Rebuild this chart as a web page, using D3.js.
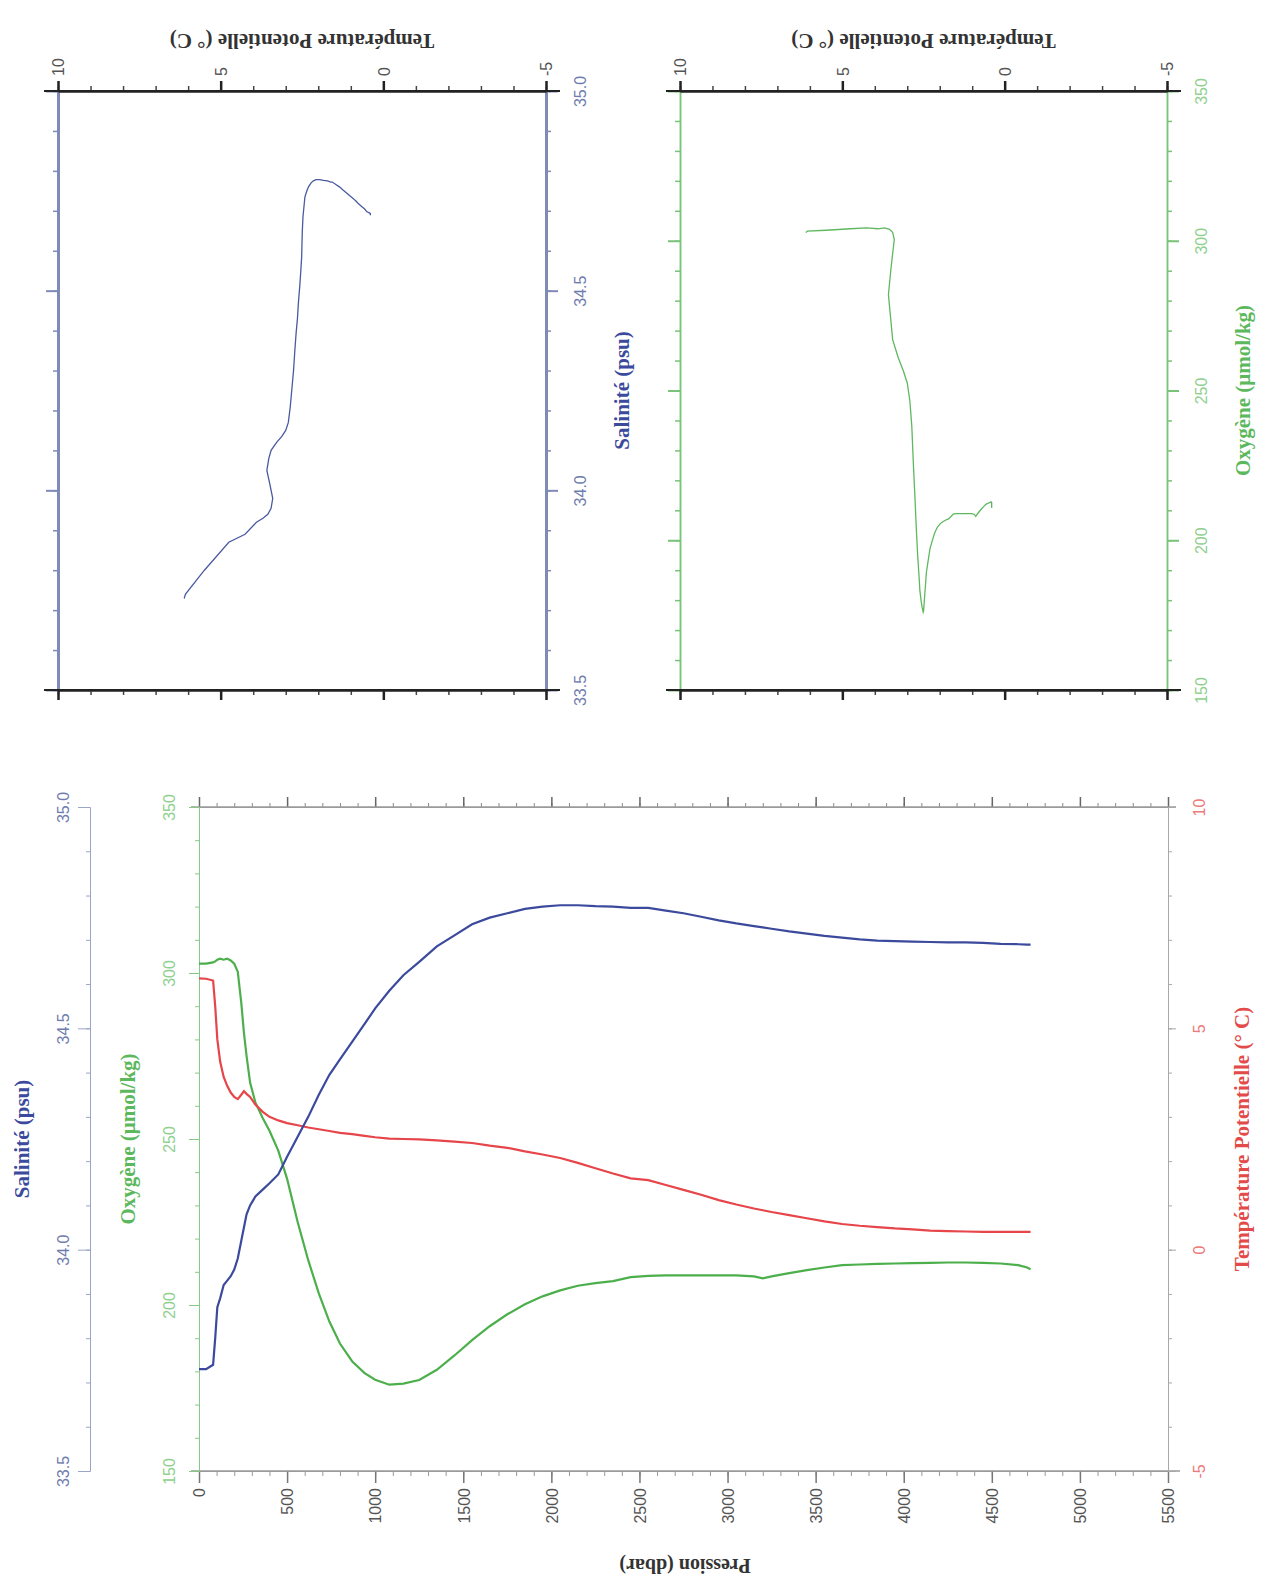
<!DOCTYPE html>
<html><head><meta charset="utf-8">
<script src="https://cdn.jsdelivr.net/npm/d3@7"></script>
<style>body{margin:0;background:#fff} svg{display:block}</style>
</head><body><svg id="c" width="1271" height="1584"></svg>
<script>
// ---------- DATA ----------
const pressure = [0,40,80,92,104,120,140,160,180,200,220,240,255,270,290,320,360,400,450,500,560,620,680,740,800,870,940,1000,1080,1160,1250,1350,1450,1550,1650,1750,1850,1950,2050,2150,2250,2350,2450,2550,2650,2750,2850,2950,3050,3150,3200,3250,3350,3450,3550,3650,3750,3850,3950,4050,4150,4250,4350,4450,4550,4650,4700,4720];
const temperature = [6.13,6.12,6.08,5.5,4.75,4.25,3.9,3.7,3.55,3.45,3.40,3.50,3.58,3.52,3.45,3.28,3.12,3.0,2.92,2.86,2.81,2.76,2.72,2.68,2.64,2.61,2.57,2.54,2.51,2.50,2.49,2.47,2.44,2.41,2.35,2.30,2.22,2.15,2.07,1.96,1.84,1.72,1.61,1.57,1.46,1.35,1.24,1.12,1.02,0.93,0.89,0.85,0.78,0.71,0.64,0.58,0.54,0.51,0.48,0.46,0.43,0.42,0.41,0.40,0.40,0.40,0.40,0.40];
const salinity = [33.73,33.73,33.74,33.80,33.87,33.89,33.92,33.93,33.94,33.955,33.98,34.02,34.05,34.08,34.10,34.12,34.135,34.15,34.17,34.21,34.255,34.30,34.35,34.395,34.43,34.47,34.51,34.545,34.585,34.62,34.65,34.685,34.71,34.735,34.75,34.76,34.77,34.775,34.778,34.778,34.776,34.775,34.772,34.772,34.766,34.76,34.752,34.744,34.737,34.731,34.728,34.725,34.719,34.714,34.709,34.705,34.701,34.698,34.697,34.696,34.695,34.694,34.694,34.693,34.691,34.690,34.689,34.689];
const oxygen = [302.8,302.8,303.2,303.5,304.0,304.3,304.0,304.3,303.8,302.8,300.4,291,282,275,267,261,256.5,252.5,246.5,238,225,213.5,203.5,195,188.4,183,179.5,177.5,176,176.3,177.4,180.5,184.8,189.4,193.6,197.2,200.2,202.6,204.4,205.8,206.6,207.2,208.4,208.8,208.9,208.9,208.9,208.9,208.9,208.6,208.0,208.6,209.6,210.5,211.3,212.0,212.2,212.4,212.5,212.6,212.7,212.8,212.8,212.7,212.5,212.0,211.3,210.8];

const pressureTicks = [0,500,1000,1500,2000,2500,3000,3500,4000,4500,5000,5500];
const salinityTicks = [33.5,34.0,34.5,35.0];
const oxygenTicks = [150,200,250,300,350];
const temperatureTicks = [-5,0,5,10];

const titleSal = "Salinité (psu)";
const titleOxy = "Oxygène (μmol/kg)";
const titleTemp = "Température Potentielle (° C)";
const titlePres = "Pression (dbar)";

// ---------- SETUP ----------
const svg = d3.select('#c');
const serif = '"Liberation Serif","Times New Roman",serif';
const sans = '"Liberation Sans",Arial,sans-serif';
const C = {blue:'#3b4a9c', red:'#e6454a', green:'#4caf4c',
           salAx:'#9aa4c6', salTx:'#6f7cae', oxAx:'#86c986', oxTx:'#8fd08f',
           tAx:'#a8a8a8', tTx:'#ec7a7a', dark:'#333', grey:'#9a9a9a'};
const profile = pressure.map((p,i)=>({p, t:temperature[i], s:salinity[i], o:oxygen[i]}));
const fmtInt = d => String(d);               // plain hyphen-minus, no grouping
const fmt1 = d => d.toFixed(1);

function range(a,b,s){const r=[];for(let v=a;v<=b+1e-9;v+=s)r.push(+v.toFixed(3));return r;}

function axis(gen, tx, ty, o){
  const g = svg.append('g').attr('transform',`translate(${tx},${ty})`).call(gen);
  g.select('.domain').attr('stroke', o.line).attr('stroke-width', o.lw||1);
  g.selectAll('.tick line').attr('stroke', o.tick||o.line).attr('stroke-width', o.tw||1);
  g.selectAll('.tick text').attr('fill', o.text||'#666')
    .style('font-family', sans).style('font-size', (o.fs||15)+'px');
  return g;
}
function title(txt, x, y, rot, color, fs){
  svg.append('text').attr('transform',`translate(${x},${y}) rotate(${rot})`)
    .attr('text-anchor','middle').attr('dominant-baseline','central')
    .attr('fill',color).style('font-family',serif).style('font-weight','bold')
    .style('font-size',(fs||21)+'px').text(txt);
}

// ---------- MAIN PROFILE PLOT ----------
const M = {l:199, r:1168, t:807, b:1471};
const xP = d3.scaleLinear([0,5500],[M.l,M.r]);
const yS = d3.scaleLinear([33.5,35],[M.b,M.t]);
const yO = d3.scaleLinear([150,350],[M.b,M.t]);
const yT = d3.scaleLinear([-5,10],[M.b,M.t]);

// top frame
axis(d3.axisTop(xP).tickValues(range(0,5500,100)).tickSize(4).tickSizeOuter(0).tickFormat(''),0,M.t,{line:C.grey,tick:'#888'});
axis(d3.axisTop(xP).tickValues(pressureTicks).tickSize(10).tickSizeOuter(0).tickFormat(''),0,M.t,{line:C.grey,tick:'#666',tw:1.5});
svg.append('line').attr('x1',M.l-8).attr('x2',M.r+8).attr('y1',M.t).attr('y2',M.t).attr('stroke',C.grey).attr('stroke-width',1.5);
// pressure axis
axis(d3.axisBottom(xP).tickValues(range(0,5500,100)).tickSize(5).tickSizeOuter(0).tickFormat(''),0,M.b,{line:C.grey,tick:'#999'});
const gp = axis(d3.axisBottom(xP).tickValues(pressureTicks).tickSize(12).tickSizeOuter(0).tickFormat(fmtInt),0,M.b,{line:C.grey,tick:'#777',tw:1.5,text:'#555',fs:16});
svg.append('line').attr('x1',M.l-8).attr('x2',M.r+12).attr('y1',M.b).attr('y2',M.b).attr('stroke',C.grey).attr('stroke-width',1.5);
gp.selectAll('.tick text').attr('transform','rotate(-90)').attr('x',-17).attr('y',0).attr('dy','0.36em').attr('text-anchor','end');
title(titlePres, 685, 1566, 180, C.dark, 20);

// salinity axis (detached)
axis(d3.axisLeft(yS).tickValues(range(33.5,35,0.1)).tickSize(4).tickSizeOuter(0).tickFormat(''),90,0,{line:C.salAx});
const gs = axis(d3.axisLeft(yS).tickValues(salinityTicks).tickSize(12).tickSizeOuter(0).tickFormat(fmt1),90,0,{line:C.salAx,text:C.salTx,fs:16});
gs.selectAll('.tick text').attr('transform','rotate(-90)').attr('x',0).attr('y',-21).attr('dy',0).attr('text-anchor','middle');
title(titleSal, 22, (M.t+M.b)/2, -90, C.blue, 21);

// oxygen axis
axis(d3.axisLeft(yO).tickValues(range(150,350,10)).tickSize(4).tickSizeOuter(0).tickFormat(''),M.l,0,{line:C.oxAx});
const go = axis(d3.axisLeft(yO).tickValues(oxygenTicks).tickSize(10).tickSizeOuter(0).tickFormat(fmtInt),M.l,0,{line:C.oxAx,text:C.oxTx,fs:16});
go.selectAll('.tick text').attr('transform','rotate(-90)').attr('x',0).attr('y',-24).attr('dy',0).attr('text-anchor','middle');
title(titleOxy, 128, (M.t+M.b)/2, -90, '#5cb85c', 21);

// temperature axis (right)
axis(d3.axisRight(yT).tickValues(range(-5,10,1)).tickSize(4).tickSizeOuter(0).tickFormat(''),M.r,0,{line:C.tAx});
const gt = axis(d3.axisRight(yT).tickValues(temperatureTicks).tickSize(8).tickSizeOuter(0).tickFormat(fmtInt),M.r,0,{line:C.tAx,text:C.tTx,fs:16});
gt.selectAll('.tick text').attr('transform','rotate(-90)').attr('x',0).attr('y',37).attr('dy',0).attr('text-anchor','middle');
title(titleTemp, 1242, (M.t+M.b)/2, -90, '#e34a4a', 21);

// profile lines
const lineS = d3.line().x(d=>xP(d.p)).y(d=>yS(d.s));
const lineO = d3.line().x(d=>xP(d.p)).y(d=>yO(d.o));
const lineT = d3.line().x(d=>xP(d.p)).y(d=>yT(d.t));
svg.append('path').datum(profile).attr('d',lineO).attr('fill','none').attr('stroke',C.green).attr('stroke-width',2.2);
svg.append('path').datum(profile).attr('d',lineT).attr('fill','none').attr('stroke',C.red).attr('stroke-width',2.2);
svg.append('path').datum(profile).attr('d',lineS).attr('fill','none').attr('stroke',C.blue).attr('stroke-width',2.2);

// ---------- TOP PROPERTY-PROPERTY PLOTS ----------
function panel(L, R, T, B, yDom, yTicks, yMinorStep, yColor, yTextColor, yLw, yFmt, yTitle, yTitleColor, yField, lineColor){
  const xT = d3.scaleLinear([10,-5],[L,R]);
  const y = d3.scaleLinear(yDom,[B,T]);
  axis(d3.axisLeft(y).tickValues(range(yDom[0],yDom[1],yMinorStep)).tickSize(5).tickSizeOuter(0).tickFormat(''),L,0,{line:yColor,lw:yLw,tw:1.5});
  axis(d3.axisLeft(y).tickValues(yTicks).tickSize(12).tickSizeOuter(0).tickFormat(''),L,0,{line:yColor,lw:yLw,tw:2});
  axis(d3.axisRight(y).tickValues(range(yDom[0],yDom[1],yMinorStep)).tickSize(5).tickSizeOuter(0).tickFormat(''),R,0,{line:yColor,lw:yLw,tw:1.5});
  const gr = axis(d3.axisRight(y).tickValues(yTicks).tickSize(12).tickSizeOuter(0).tickFormat(yFmt),R,0,{line:yColor,lw:yLw,tw:2,text:yTextColor,fs:16});
  gr.selectAll('.tick text').attr('transform','rotate(-90)').attr('x',0).attr('y',40).attr('dy',0).attr('text-anchor','middle');
  title(yTitle, R+76, (T+B)/2, -90, yTitleColor, 21);
  axis(d3.axisTop(xT).tickValues(range(-5,10,1)).tickSize(5).tickSizeOuter(0).tickFormat(''),0,T,{line:'#222',lw:2,tw:1.5,tick:'#444'});
  const gtop = axis(d3.axisTop(xT).tickValues(temperatureTicks).tickSize(10).tickSizeOuter(0).tickFormat(fmtInt),0,T,{line:'#222',lw:2,tw:2.5,text:'#555',fs:16});
  gtop.selectAll('.tick text').attr('transform','rotate(-90)').attr('x',15).attr('y',0).attr('dy','0.36em').attr('text-anchor','start');
  axis(d3.axisBottom(xT).tickValues(range(-5,10,1)).tickSize(5).tickSizeOuter(0).tickFormat(''),0,B,{line:'#222',lw:2,tw:1.5,tick:'#444'});
  axis(d3.axisBottom(xT).tickValues(temperatureTicks).tickSize(10).tickSizeOuter(0).tickFormat(''),0,B,{line:'#222',lw:2,tw:2.5});
  svg.append('line').attr('x1',L-14).attr('x2',R+14).attr('y1',T).attr('y2',T).attr('stroke','#222').attr('stroke-width',2);
  svg.append('line').attr('x1',L-14).attr('x2',R+14).attr('y1',B).attr('y2',B).attr('stroke','#222').attr('stroke-width',2);
  title(titleTemp, (L+R)/2, 41, 180, C.dark, 21);
  svg.append('path').datum(profile)
    .attr('d', d3.line().x(d=>xT(d.t)).y(d=>y(d[yField])))
    .attr('fill','none').attr('stroke',lineColor).attr('stroke-width',1.3);
}
panel(58, 546, 91, 690, [33.5,35], salinityTicks, 0.1, '#7f8bb6', C.salTx, 3, fmt1, titleSal, C.blue, 's', '#4a5aa0');
panel(680, 1167, 91, 690, [150,350], oxygenTicks, 10, '#79c279', C.oxTx, 1.5, fmtInt, titleOxy, '#5cb85c', 'o', '#5fb85f');
</script></body></html>
